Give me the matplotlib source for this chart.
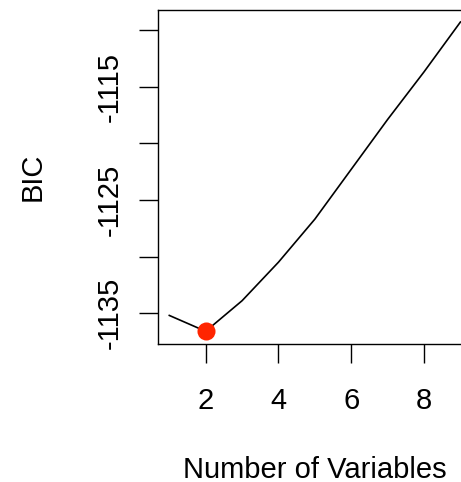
import matplotlib
matplotlib.use("Agg")
import matplotlib.pyplot as plt
import numpy as np

plt.rcParams['font.family'] = ['Liberation Sans', 'DejaVu Sans']

# BIC for best subset of each size
n_vars = [1, 2, 3, 4, 5, 6, 7, 8, 9]
bic = [-1135.2, -1136.6, -1133.9, -1130.5, -1126.7, -1122.3, -1117.9, -1113.7, -1109.3]

xticks = [2, 4, 6, 8]
yticks = [-1135, -1130, -1125, -1120, -1115, -1110]
ylabels = ['-1135', '', '-1125', '', '-1115', '']

best = int(np.argmin(bic))

fig = plt.figure(figsize=(4.61, 4.82), dpi=100)
ax = fig.add_axes([0.342, 0.287, 0.682, 0.693])
ax.margins(x=0.04, y=0.04)

ax.plot(n_vars, bic, color='black', lw=1.2)
ax.plot(n_vars[best], bic[best], 'o', color='#ff2500', ms=13, mec='none')

ax.set_xticks(xticks)
ax.set_yticks(yticks)
ax.set_yticklabels(ylabels, rotation=90, va='center')
ax.tick_params(length=13.5, width=1.0, labelsize=21, pad=18)
ax.tick_params(axis='y', pad=11)
for sp in ax.spines.values():
    sp.set_linewidth(1.0)

ax.set_xlabel('Number of Variables', fontsize=21, labelpad=29)
ax.set_ylabel('BIC', fontsize=21, labelpad=35)

fig.savefig('out.png', dpi=100)
